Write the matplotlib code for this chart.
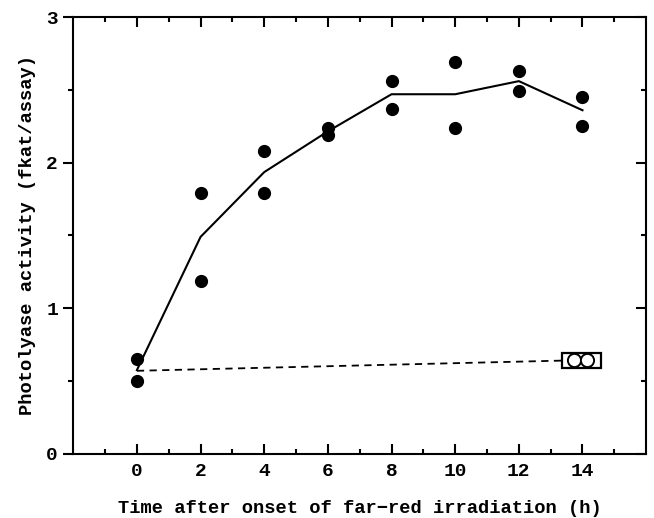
import numpy as np
import matplotlib.pyplot as plt
from matplotlib.patches import Rectangle
from matplotlib.ticker import MultipleLocator

plt.rcParams['font.family'] = ['Liberation Mono', 'DejaVu Sans Mono']
plt.rcParams['font.weight'] = 'bold'

# far-red irradiated samples, two replicates per time point
hours = [0, 2, 4, 6, 8, 10, 12, 14]
rep_a = [0.65, 1.79, 2.08, 2.24, 2.56, 2.69, 2.63, 2.45]
rep_b = [0.50, 1.19, 1.79, 2.19, 2.37, 2.24, 2.49, 2.25]
mean_line = [0.575, 1.49, 1.935, 2.215, 2.47, 2.47, 2.56, 2.36]

# dark controls
dark_x = [13.72, 14.15]
dark_y = [0.643, 0.643]
dash_x = [0, 13.35]
dash_y = [0.57, 0.64]

fig, ax = plt.subplots(figsize=(6.54, 5.18), dpi=100)
fig.subplots_adjust(left=0.112, right=0.988, top=0.967, bottom=0.124)

ax.plot(hours, mean_line, color='black', lw=1.5, zorder=2)
ax.plot(hours, rep_a, 'o', color='black', ms=8.5, zorder=3)
ax.plot(hours, rep_b, 'o', color='black', ms=8.5, zorder=3)

ax.plot(dash_x, dash_y, '--', color='black', lw=1.3, dashes=(4, 3), zorder=2)
ax.add_patch(Rectangle((13.35, 0.59), 1.22, 0.105, fill=True, facecolor='white',
                       edgecolor='black', lw=1.6, zorder=4))
ax.plot(dark_x, dark_y, 'o', mfc='white', mec='black', mew=1.4, ms=9.5, zorder=5)

ax.set_xlim(-2, 16)
ax.set_ylim(0, 3)
ax.set_xticks(hours)
ax.set_xticks([-1, 1, 3, 5, 7, 9, 11, 13, 15], minor=True)
ax.set_yticks([0, 1, 2, 3])
ax.yaxis.set_minor_locator(MultipleLocator(0.5))

ax.tick_params(which='both', direction='in', top=True, right=True, width=1.5)
ax.tick_params(axis='y', which='both', left=True, direction='out')
ax.tick_params(which='major', length=7, labelsize=14)
ax.tick_params(which='minor', length=3.5)
ax.tick_params(axis='x', pad=7)
ax.tick_params(axis='y', pad=4)
# right side ticks point inward while left ones point outward
for t in ax.yaxis.get_major_ticks() + ax.yaxis.get_minor_ticks():
    t.tick2line.set_marker(0)
for lbl in ax.get_xticklabels() + ax.get_yticklabels():
    lbl.set_fontweight('bold')
for s in ax.spines.values():
    s.set_linewidth(1.5)

ax.set_xlabel('Time after onset of far\u2212red irradiation (h)', fontsize=13.5,
              fontweight='bold', labelpad=14)
ax.set_ylabel('Photolyase activity (fkat/assay)', fontsize=13.5,
              fontweight='bold', labelpad=7)

fig.savefig('out.png', dpi=100)
